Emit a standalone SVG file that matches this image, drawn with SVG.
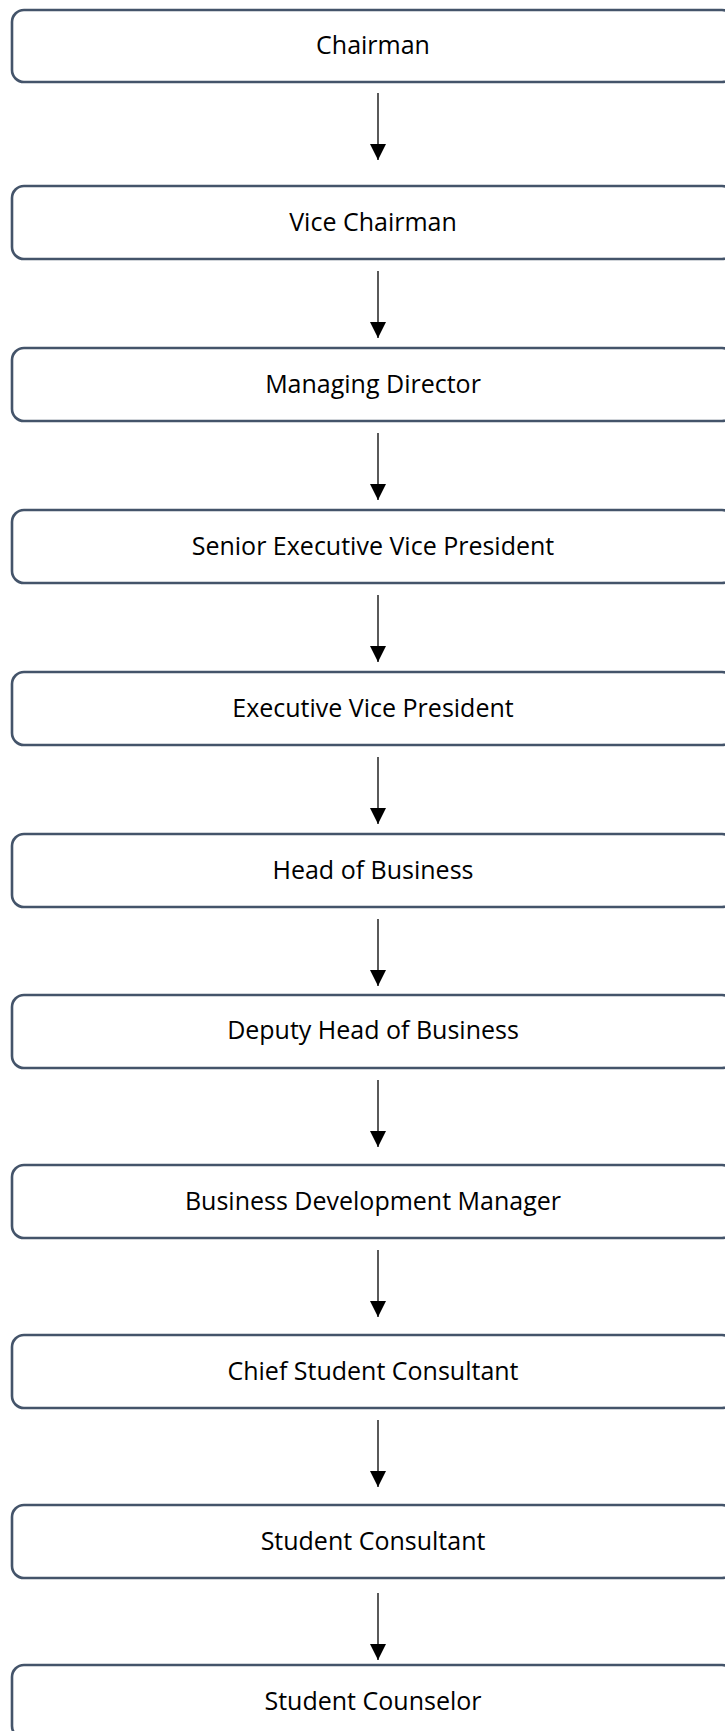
<svg xmlns="http://www.w3.org/2000/svg" width="725" height="1731" viewBox="0 0 725 1731">
<style>
.box{fill:#ffffff;stroke:#44546A;stroke-width:2.6}
.lbl{font-family:"Open Sans","Liberation Sans",sans-serif;font-size:25px;fill:#000000;text-anchor:middle}
.arr{stroke:#000000;stroke-width:1.3;fill:none}
</style>
<defs>
<marker id="ah" markerUnits="userSpaceOnUse" markerWidth="16" markerHeight="17" refX="16" refY="8" orient="auto">
<path d="M0,0 L16,8 L0,16 Z" fill="#000000"/>
</marker>
</defs>
<rect width="725" height="1731" fill="#ffffff"/>
<g id="connectors">
<line class="arr" x1="378" y1="93" x2="378" y2="160" marker-end="url(#ah)"/>
<line class="arr" x1="378" y1="271" x2="378" y2="338" marker-end="url(#ah)"/>
<line class="arr" x1="378" y1="433" x2="378" y2="500" marker-end="url(#ah)"/>
<line class="arr" x1="378" y1="595" x2="378" y2="662" marker-end="url(#ah)"/>
<line class="arr" x1="378" y1="757" x2="378" y2="824" marker-end="url(#ah)"/>
<line class="arr" x1="378" y1="919" x2="378" y2="986" marker-end="url(#ah)"/>
<line class="arr" x1="378" y1="1080" x2="378" y2="1147" marker-end="url(#ah)"/>
<line class="arr" x1="378" y1="1250" x2="378" y2="1317" marker-end="url(#ah)"/>
<line class="arr" x1="378" y1="1420" x2="378" y2="1487" marker-end="url(#ah)"/>
<line class="arr" x1="378" y1="1593" x2="378" y2="1660" marker-end="url(#ah)"/>
</g>
<g id="n1"><rect class="box" x="12" y="10" width="722" height="72" rx="12"/><text class="lbl" x="373" y="54">Chairman</text></g>
<g id="n2"><rect class="box" x="12" y="186" width="722" height="73" rx="12"/><text class="lbl" x="373" y="231">Vice Chairman</text></g>
<g id="n3"><rect class="box" x="12" y="348" width="722" height="73" rx="12"/><text class="lbl" x="373" y="393">Managing Director</text></g>
<g id="n4"><rect class="box" x="12" y="510" width="722" height="73" rx="12"/><text class="lbl" x="373" y="555">Senior Executive Vice President</text></g>
<g id="n5"><rect class="box" x="12" y="672" width="722" height="73" rx="12"/><text class="lbl" x="373" y="717">Executive Vice President</text></g>
<g id="n6"><rect class="box" x="12" y="834" width="722" height="73" rx="12"/><text class="lbl" x="373" y="879">Head of Business</text></g>
<g id="n7"><rect class="box" x="12" y="995" width="722" height="73" rx="12"/><text class="lbl" x="373" y="1039">Deputy Head of Business</text></g>
<g id="n8"><rect class="box" x="12" y="1165" width="722" height="73" rx="12"/><text class="lbl" x="373" y="1210">Business Development Manager</text></g>
<g id="n9"><rect class="box" x="12" y="1335" width="722" height="73" rx="12"/><text class="lbl" x="373" y="1380">Chief Student Consultant</text></g>
<g id="n10"><rect class="box" x="12" y="1505" width="722" height="73" rx="12"/><text class="lbl" x="373" y="1550">Student Consultant</text></g>
<g id="n11"><rect class="box" x="12" y="1665" width="722" height="73" rx="12"/><text class="lbl" x="373" y="1710">Student Counselor</text></g>
</svg>
